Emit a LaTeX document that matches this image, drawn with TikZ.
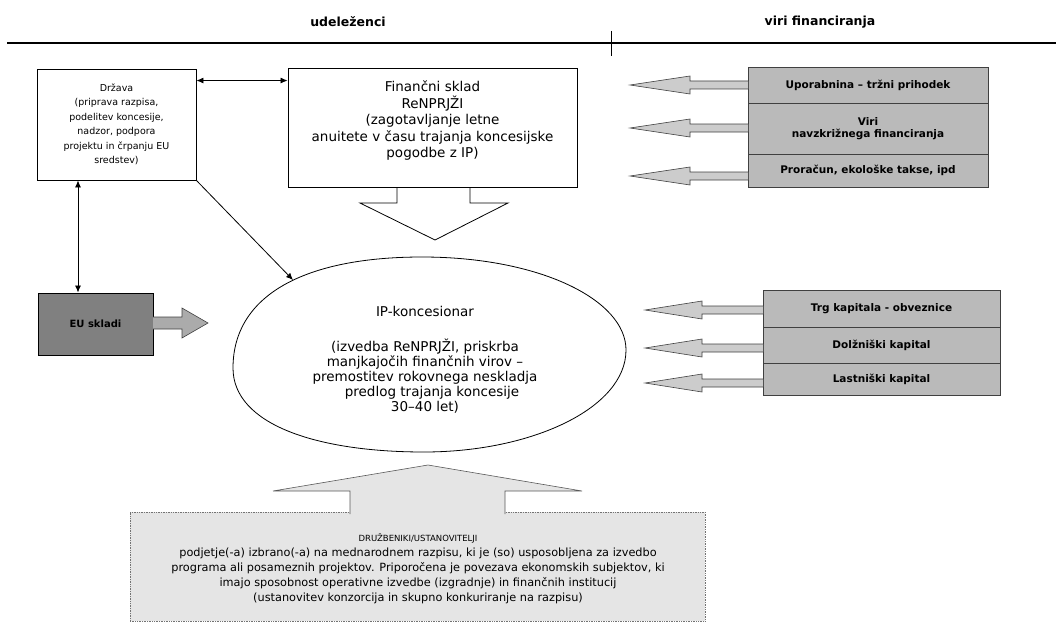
\documentclass[tikz,border=0pt]{standalone}
\usepackage{fontspec}
\setmainfont{DejaVu Sans}
\usetikzlibrary{arrows.meta,calc}
\begin{document}
\begin{tikzpicture}[x=1pt,y=-1pt,
  box/.style={draw=black,line width=0.9pt,fill=white,inner sep=0pt,align=center},
  srcrow/.style={draw=black!75,line width=0.7pt,fill=black!27,inner sep=0pt,align=center,font=\fontsize{10.5}{12.5}\selectfont\bfseries},
  hdr/.style={font=\fontsize{12.5}{14}\selectfont\bfseries},
  link/.style={line width=0.8pt,{Latex[length=7pt,width=6pt]}-{Latex[length=7pt,width=6pt]}},
  onelink/.style={line width=0.8pt,-{Latex[length=7pt,width=6pt]}},
  blockarr/.style={draw=black!75,line width=0.6pt,fill=black!20,line join=miter}
]
\useasboundingbox (0,0) rectangle (1056,623);

% header
\node[hdr] (h1) at (348,22) {udeleženci};
\node[hdr] (h2) at (820,22) {viri financiranja};
\coordinate (hl) at (7,43);
\coordinate (hr) at (1056,43);
\draw[line width=1.3pt] (hl) -- (hr);
\coordinate (tt) at (611,31);
\coordinate (tb) at (611,56);
\draw[line width=0.9pt] (tt) -- (tb);

% Drzava
\node[box,minimum width=159,minimum height=111,font=\fontsize{9.5}{14.5}\selectfont] (drz) at (116.5,124.5)
  {Država\\(priprava razpisa,\\podelitev koncesije,\\nadzor, podpora\\projektu in črpanju EU\\sredstev)};

% Financni sklad + down arrow
\draw[draw=black,line width=0.8pt,fill=white] (397,186) -- (397,203) -- (360,203) -- (435,240) -- (508,203) -- (470,203) -- (470,186);
\node[box,minimum width=289,minimum height=119] (fin) at (432.5,127.5) {};
\node[font=\fontsize{13.5}{16.5}\selectfont,align=center] (fintxt) at (432.5,121)
  {Finančni sklad\\ReNPRJŽI\\(zagotavljanje letne\\anuitete v času trajanja koncesijske\\pogodbe z IP)};

\draw[link] ([yshift=-12pt]drz.north east) -- ([yshift=-13pt]fin.north west);

% EU skladi
\node[draw=black,line width=1pt,fill=black!50,minimum width=115,minimum height=62,inner sep=0pt,
  font=\fontsize{10}{12}\selectfont\bfseries] (eu) at (95.5,324) {EU skladi};
\draw[blockarr,fill=black!33] (153,317) -- (182,317) -- (182,308) -- (208,323) -- (182,338) -- (182,329) -- (153,329);
\draw[link] ([xshift=-38.5pt]drz.south) -- ([xshift=-17.5pt]eu.north);

% ellipse
\draw[line width=0.8pt,fill=white] (233,368) .. controls (233,295) and (305,257) .. (422,257)
  .. controls (540,257) and (626,300) .. (626,350)
  .. controls (626,408) and (532,452) .. (424,452)
  .. controls (318,452) and (233,425) .. cycle;
\node[font=\fontsize{13.5}{15}\selectfont,align=center] (ip) at (425,360)
  {IP-koncesionar\\[20pt](izvedba ReNPRJŽI, priskrba\\manjkajočih finančnih virov –\\premostitev rokovnega neskladja\\\hspace{14pt}predlog trajanja koncesije\\30–40 let)};
\coordinate (ipin) at (293,280);
\draw[onelink] (drz.south east) -- (ipin);

% sources top
\node[srcrow,minimum width=240,minimum height=36] (r1) at (868,85) {Uporabnina – tržni prihodek};
\node[srcrow,minimum width=240,minimum height=51] (r2) at (868,128.5) {Viri\\navzkrižnega financiranja};
\node[srcrow,minimum width=240,minimum height=33] (r3) at (868,170.5) {Proračun, ekološke takse, ipd};
\foreach \yy in {85,128,176}{
  \draw[blockarr] (748,\yy-4) -- (690,\yy-4) -- (690,\yy-9) -- (630,\yy) -- (690,\yy+9) -- (690,\yy+4) -- (748,\yy+4);
}

% sources bottom
\node[srcrow,minimum width=237,minimum height=37] (b1) at (881.5,308.5) {Trg kapitala - obveznice};
\node[srcrow,minimum width=237,minimum height=36] (b2) at (881.5,345) {Dolžniški kapital};
\node[srcrow,minimum width=237,minimum height=32] (b3) at (881.5,379) {Lastniški kapital};
\foreach \yy in {310,348,383}{
  \draw[blockarr] (763,\yy-4) -- (702,\yy-4) -- (702,\yy-9) -- (645,\yy) -- (702,\yy+9) -- (702,\yy+4) -- (763,\yy+4);
}

% bottom box + up arrow
\node[draw=black!55,densely dotted,line width=0.7pt,fill=black!10,minimum width=575,minimum height=109,inner sep=0pt] (bot) at (417.5,566.5) {};
\draw[draw=black!65,line width=0.6pt,fill=black!10] (350,514) -- (350,491) -- (273,491) -- (428,465) -- (582,491) -- (505,491) -- (505,514);
\node[font=\fontsize{11.3}{15}\selectfont,align=center] (bottxt) at (418,569)
  {{\fontsize{8.5}{15}\selectfont DRUŽBENIKI/USTANOVITELJI}\\
   podjetje(-a) izbrano(-a) na mednarodnem razpisu, ki je (so) usposobljena za izvedbo\\
   programa ali posameznih projektov. Priporočena je povezava ekonomskih subjektov, ki\\
   imajo sposobnost operativne izvedbe (izgradnje) in finančnih institucij\\
   (ustanovitev konzorcija in skupno konkuriranje na razpisu)};
\end{tikzpicture}
\end{document}
